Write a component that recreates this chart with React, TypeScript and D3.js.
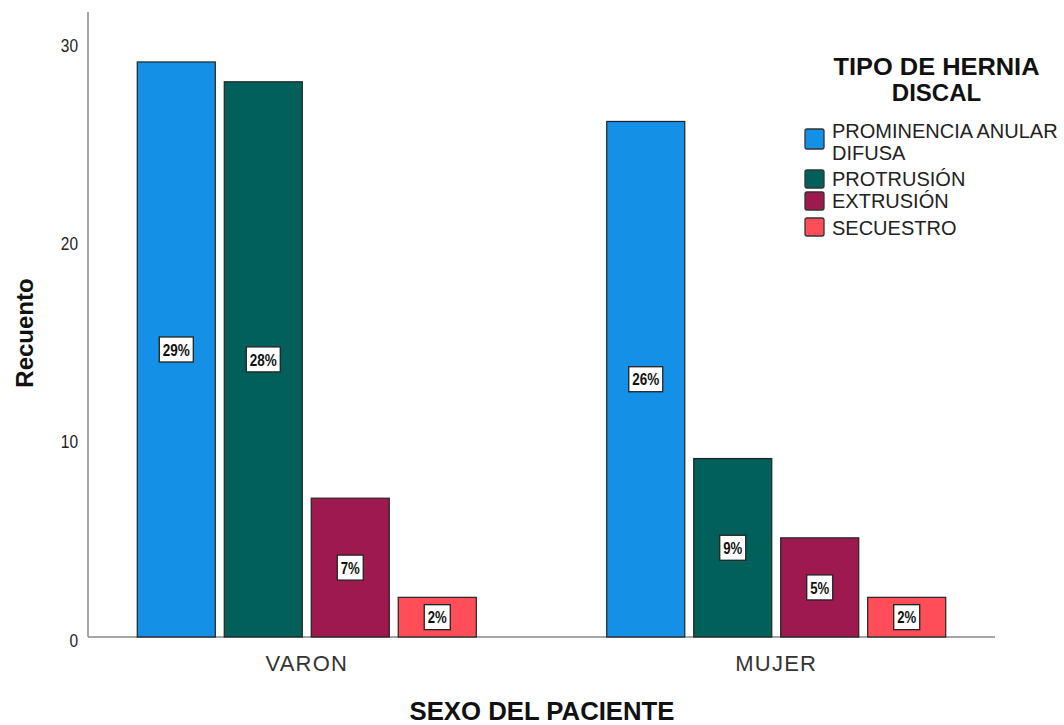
import React from "react";
import * as d3 from "d3";

const categories = ["VARON", "MUJER"];
const seriesNames = ["PROMINENCIA ANULAR DIFUSA", "PROTRUSIÓN", "EXTRUSIÓN", "SECUESTRO"];
const seriesColors = ["#1490E6", "#01605A", "#9E1A4E", "#FF4E57"];
const varonValues = [29, 28, 7, 2];
const mujerValues = [26, 9, 5, 2];
const percentLabels = [["29%", "28%", "7%", "2%"], ["26%", "9%", "5%", "2%"]];
const yTicks = [0, 10, 20, 30];
const legendLines = [["PROMINENCIA ANULAR", "DIFUSA"], ["PROTRUSIÓN"], ["EXTRUSIÓN"], ["SECUESTRO"]];

export default function App() {
  const W = 1064, H = 725;
  const left = 88, right = 995, top = 12, bottom = 637;
  const values = [varonValues, mujerValues];
  const x0 = d3.scalePoint<string>().domain(categories).range([left, right]).padding(0.466);
  const x1 = d3.scaleBand<string>().domain(seriesNames).range([-169.5, 169.5]).paddingInner(0.103).paddingOuter(0);
  const y = d3.scaleLinear().domain([0, 31.52]).range([bottom, top]);
  const font = "Arial, 'Liberation Sans', sans-serif";
  const swatchY = [129, 170, 192, 218];
  const textY = [[131, 153], [179], [201], [228]];
  return (
    <svg width={W} height={H} style={{ position: "absolute", left: 0, top: 0, background: "#fff" }}>
      <line x1={left} x2={left} y1={top} y2={bottom} stroke="#888" strokeWidth={1.5} />
      <line x1={left} x2={right} y1={bottom} y2={bottom} stroke="#888" strokeWidth={1.5} />
      {yTicks.map((t) => (
        <text key={t} x={78} y={y(t) + 3} dy="0.35em" textAnchor="end" fontFamily={font} fontSize={19}
          textLength={String(t).length * 8.6} lengthAdjust="spacingAndGlyphs" fill="#222">
          {t}
        </text>
      ))}
      {categories.map((c, ci) => (
        <g key={c} transform={`translate(${x0(c)},0)`}>
          {seriesNames.map((s, si) => {
            const v = values[ci][si];
            const bx = x1(s)!;
            const bw = x1.bandwidth();
            const cy = y(v / 2);
            const lbl = percentLabels[ci][si];
            const boxW = lbl.length > 2 ? 34 : 26;
            return (
              <g key={s}>
                <rect x={bx} y={y(v)} width={bw} height={bottom - y(v)} fill={seriesColors[si]} stroke="#222" strokeWidth={1.2} />
                <rect x={bx + bw / 2 - boxW / 2} y={cy - 12.5} width={boxW} height={25} fill="#fff" stroke="#222" strokeWidth={1.3} />
                <text x={bx + bw / 2} y={cy} dy="0.36em" textAnchor="middle" fontFamily={font} fontWeight="bold" fontSize={17}
                  textLength={lbl.length > 2 ? 27 : 19} lengthAdjust="spacingAndGlyphs" fill="#111">
                  {lbl}
                </text>
              </g>
            );
          })}
          <text x={0} y={663} dy="0.35em" textAnchor="middle" fontFamily={font} fontSize={22} letterSpacing={1.2} fill="#333">
            {c}
          </text>
        </g>
      ))}
      <text transform={`translate(25,333) rotate(-90)`} textAnchor="middle" dy="0.35em" fontFamily={font} fontWeight="bold" fontSize={24} fill="#111">
        Recuento
      </text>
      <text x={542} y={711} textAnchor="middle" dy="0.35em" fontFamily={font} fontWeight="bold" fontSize={25}
        textLength={265} lengthAdjust="spacingAndGlyphs" fill="#111">
        SEXO DEL PACIENTE
      </text>
      <text x={936.5} y={67} textAnchor="middle" dy="0.35em" fontFamily={font} fontWeight="bold" fontSize={24}
        textLength={206} lengthAdjust="spacingAndGlyphs" fill="#111">
        TIPO DE HERNIA
      </text>
      <text x={936.5} y={93} textAnchor="middle" dy="0.35em" fontFamily={font} fontWeight="bold" fontSize={24} fill="#111">
        DISCAL
      </text>
      {seriesNames.map((s, i) => (
        <g key={s}>
          <rect x={805} y={swatchY[i]} width={19} height={i === 0 ? 20 : 18} rx={2} fill={seriesColors[i]} stroke="#333" strokeWidth={1.3} />
          {legendLines[i].map((ln, li) => (
            <text key={li} x={832} y={textY[i][li]} dy="0.35em" fontFamily={font} fontSize={20} fill="#222">
              {ln}
            </text>
          ))}
        </g>
      ))}
    </svg>
  );
}
